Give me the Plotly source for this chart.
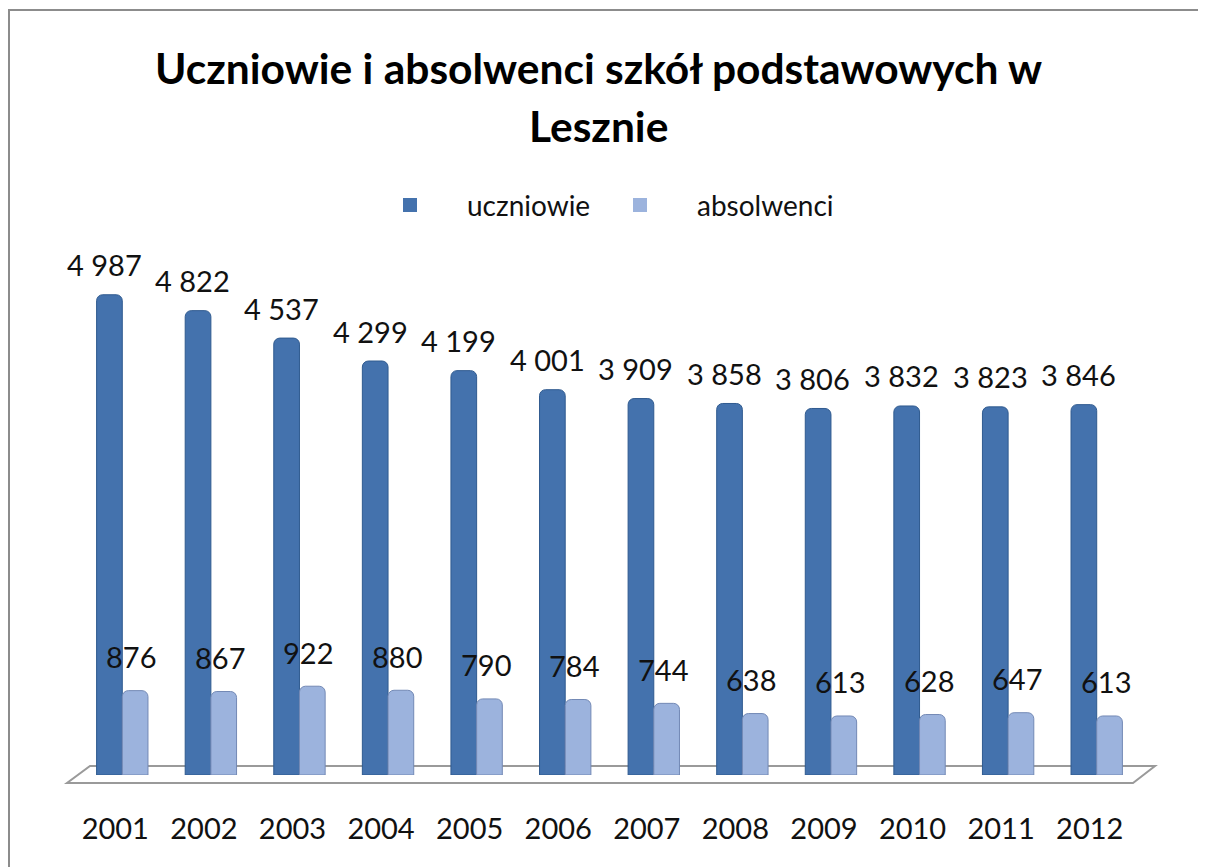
import plotly.graph_objects as go

years = ["2001", "2002", "2003", "2004", "2005", "2006", "2007", "2008", "2009", "2010", "2011", "2012"]
uczniowie = [4987, 4822, 4537, 4299, 4199, 4001, 3909, 3858, 3806, 3832, 3823, 3846]
absolwenci = [876, 867, 922, 880, 790, 784, 744, 638, 613, 628, 647, 613]
series_names = ["uczniowie", "absolwenci"]

FONT = "Lato"
C_U = "#4472ad"
C_A = "#9cb3dd"

def fmt(v):
    return f"{v:,}".replace(",", " ")

fig = go.Figure()
fig.add_trace(go.Bar(name=series_names[0], x=years, y=uczniowie,
                     marker=dict(color=C_U, line=dict(color="#2f5a8f", width=1), cornerradius=6)))
fig.add_trace(go.Bar(name=series_names[1], x=years, y=absolwenci,
                     marker=dict(color=C_A, line=dict(color="#7389b5", width=1), cornerradius=6)))

ann = []
for i, v in enumerate(uczniowie):
    ann.append(dict(x=i, y=v, text=fmt(v), showarrow=False, xshift=-18, yshift=30,
                    font=dict(family=FONT, size=29, color="#111111")))
for i, v in enumerate(absolwenci):
    ann.append(dict(x=i, y=v, text=fmt(v), showarrow=False, xshift=9, yshift=34,
                    font=dict(family=FONT, size=29, color="#111111")))

# page is offset by the default 8px body margin
OFF = 8
W, H = 1206 - OFF, 867 - OFF
PL, PR, PT, PB = 78, 1141, 245, 775          # plot area in page pixels
L, R, T, B = PL - OFF, W - (PR - OFF), PT - OFF, H - (PB - OFF)
pw, ph = PR - PL, PB - PT

def px(x):
    return (x - PL) / pw

def py(y):
    return (PB - y) / ph

floor = (f"M {px(67)} {py(783)} L {px(1133)} {py(783)} L {px(1155)} {py(766)} "
         f"L {px(90)} {py(766)} Z")

shapes = [
    dict(type="path", xref="paper", yref="paper", path=floor,
         line=dict(color="#9a9a9a", width=2), fillcolor="rgba(255,255,255,0)", layer="below"),
    dict(type="rect", xref="paper", yref="paper", x0=px(9), y0=py(900), x1=px(1230), y1=py(10),
         line=dict(color="#8c8c8c", width=2), fillcolor="rgba(0,0,0,0)"),
]

# legend (drawn manually to match spacing)
for name, col, sx, tx in zip(series_names, [C_U, C_A], [410, 640], [465, 695]):
    shapes.append(dict(type="rect", xref="paper", yref="paper",
                       x0=px(sx - 7), x1=px(sx + 7), y0=py(212), y1=py(198),
                       fillcolor=col, line=dict(width=0)))
    ann.append(dict(xref="paper", yref="paper", x=px(tx), y=py(205), xanchor="left",
                    yanchor="middle", text=name, showarrow=False,
                    font=dict(family=FONT, size=28, color="#111111")))

ann.append(dict(xref="paper", yref="paper", x=px(598), y=py(68), yanchor="middle",
                text="<b>Uczniowie i absolwenci szkół podstawowych w</b>", showarrow=False,
                font=dict(family=FONT, size=42.5, color="#000000")))
ann.append(dict(xref="paper", yref="paper", x=px(598), y=py(125), yanchor="middle",
                text="<b>Lesznie</b>", showarrow=False,
                font=dict(family=FONT, size=42.5, color="#000000")))

fig.update_layout(
    width=W, height=H,
    margin=dict(l=L, r=R, t=T, b=B, autoexpand=False),
    paper_bgcolor="white", plot_bgcolor="rgba(0,0,0,0)",
    barmode="group", bargap=0.42, bargroupgap=0,
    showlegend=False,
    annotations=ann, shapes=shapes,
    xaxis=dict(type="category", range=[-0.5, 11.5], showgrid=False, showline=False,
               zeroline=False, automargin=False,
               ticks="", ticklabelstandoff=34, ticklabelshift=-7,
               tickfont=dict(family=FONT, size=29, color="#111111")),
    yaxis=dict(range=[0, ph / 0.0963], showgrid=False, showline=False, zeroline=False,
               showticklabels=False, ticks="", automargin=False),
    font=dict(family=FONT),
)

fig.write_html("out.html")
